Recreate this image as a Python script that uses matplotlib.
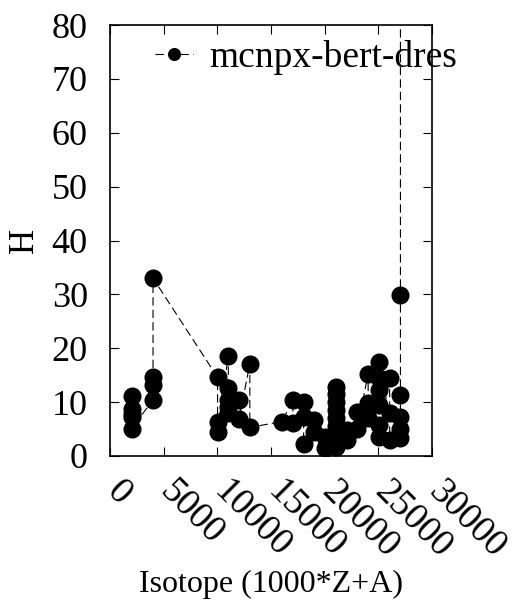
import numpy as np
import matplotlib
matplotlib.use('Agg')
import matplotlib.pyplot as plt
from matplotlib.transforms import ScaledTranslation

plt.rcParams['font.family'] = ['Liberation Serif', 'DejaVu Serif']
plt.rcParams['lines.scale_dashes'] = False

# isotope id (1000*Z+A) and H value, in file order
isotope = ([2004] * 5 + [4009] * 4 + [10020] * 3 + [11023] * 5 + [12024] * 2 +
           [13027] * 2 + [16032] + [17035] * 2 + [18040] * 3 + [19039] * 2 +
           [20040] * 2 + [21045] * 9 + [22048] * 2 + [23051] * 2 + [24052] * 3 +
           [25055] * 6 + [26056] * 3 + [27059] * 6)
H = [11.1, 8.8, 7.8, 7.2, 5.1,
     10.4, 13.2, 14.7, 33.0,
     14.6, 6.4, 4.5,
     18.6, 12.6, 10.4, 9.1, 7.9,
     10.4, 6.9,
     17.1, 5.3,
     6.4,
     10.4, 6.1,
     10.1, 7.3, 2.3,
     6.7, 4.5,
     3.6, 1.4,
     12.9, 11.5, 10.0, 8.5, 7.0, 5.5, 4.0, 2.5, 1.7,
     4.8, 3.0,
     8.2, 5.1,
     15.3, 9.8, 7.0,
     17.5, 14.4, 12.2, 9.5, 5.8, 3.6,
     14.4, 7.9, 3.0,
     3.3, 5.1, 7.3, 11.3, 29.9, 95.0]
series_name = 'mcnpx-bert-dres'
xticks = [0, 5000, 10000, 15000, 20000, 25000, 30000]
yticks = [0, 10, 20, 30, 40, 50, 60, 70, 80]

fig = plt.figure(figsize=(5.14, 6.01), dpi=100)
ax = fig.add_axes([110 / 514, 1 - 456 / 601, 322 / 514, 431 / 601])

ax.plot(isotope, H, color='black', linestyle='--', dashes=(6, 3), linewidth=0.8,
        marker='o', markersize=12, markerfacecolor='black', markeredgecolor='black',
        label=series_name)

ax.set_xlim(0, 30000)
ax.set_ylim(0, 80)
ax.set_xticks(xticks)
ax.set_yticks(yticks)
ax.tick_params(which='both', direction='in', top=True, right=True, length=6.5,
               width=0.8, labelsize=26)
ax.tick_params(axis='y', pad=16)
ax.tick_params(axis='x', pad=22, labelsize=27)
for lab in ax.get_xticklabels():
  lab.set_rotation(-45)
  lab.set_rotation_mode('anchor')
  lab.set_ha('left')
  lab.set_va('center')
  lab.set_transform(lab.get_transform() + ScaledTranslation(0.02, 0, fig.dpi_scale_trans))
for s in ax.spines.values():
  s.set_linewidth(1.2)

ax.set_xlabel('Isotope (1000*Z+A)', fontsize=23)
ax.xaxis.set_label_coords(0.5, -0.298)
ax.xaxis.label.set_va('center')
ax.set_ylabel('H', fontsize=25)
ax.yaxis.set_label_coords(-0.264, 0.5)
ax.yaxis.label.set_va('center')

ax.legend(loc='center left', bbox_to_anchor=(0.14, 0.925), frameon=False,
          fontsize=27, handlelength=1.0, handletextpad=0.45, borderpad=0,
          borderaxespad=0, markerscale=0.7)

fig.savefig('out.png', dpi=100)
